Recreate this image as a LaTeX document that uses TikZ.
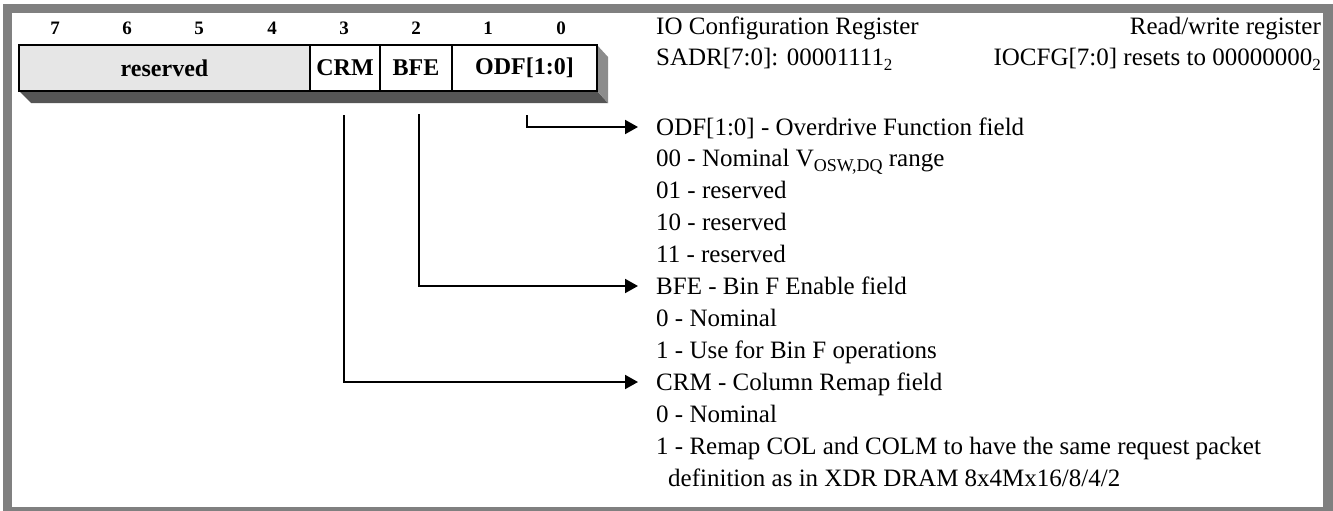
\documentclass[tikz,border=0pt]{standalone}
\usepackage{fontspec}
\setmainfont{Liberation Serif}
\usetikzlibrary{arrows.meta}
\definecolor{framegray}{HTML}{808080}
\definecolor{resgray}{HTML}{E6E6E6}
\definecolor{shadowdark}{HTML}{555555}
\definecolor{shadowside}{HTML}{8C8C8C}
\begin{document}
\begin{tikzpicture}[x=1pt,y=-1pt,
  bitlbl/.style={font=\fontsize{19}{19}\selectfont\bfseries, anchor=base, inner sep=0pt},
  cell/.style={draw=black, line width=2pt, minimum height=46pt, inner sep=0pt, outer sep=0pt,
    font=\fontsize{24}{24}\selectfont\bfseries},
  desc/.style={anchor=west, inner sep=0pt, text height=16pt, text depth=0pt,
    font=\fontsize{25}{25}\selectfont},
  title/.style={inner sep=0pt, text height=16pt, text depth=0pt,
    font=\fontsize{25}{25}\selectfont},
  conn/.style={line width=2pt, -{Triangle[length=13pt,width=14pt]}, shorten >=18pt}
]
\useasboundingbox (0,0) rectangle (1333,511);
% frame
\fill[framegray] (3,4) rectangle (1333,511);
\fill[white] (12,13) rectangle (1323,507);
% shadow of register
\fill[shadowdark] (19,91) -- (597,91) -- (608,103) -- (31,103) -- cycle;
\fill[shadowside] (597,45) -- (608,57) -- (608,103) -- (597,91) -- cycle;
% cells
\node[cell, fill=resgray, minimum width=291pt] (res) at (164.5,68) {reserved};
\node[cell, fill=white, minimum width=70pt] (crm) at (345,68) {CRM};
\node[cell, fill=white, minimum width=72pt] (bfe) at (416,68) {BFE};
\node[cell, fill=white, minimum width=145pt] (odf) at (524.5,68) {ODF[1:0]};
% bit numbers
\node[bitlbl] (b7) at (55,35) {7};
\node[bitlbl] (b6) at (127,35) {6};
\node[bitlbl] (b5) at (199,35) {5};
\node[bitlbl] (b4) at (272,35) {4};
\node[bitlbl] (b3) at (344,35) {3};
\node[bitlbl] (b2) at (416,35) {2};
\node[bitlbl] (b1) at (488,35) {1};
\node[bitlbl] (b0) at (561,35) {0};
% titles
\node[title, anchor=west] (t1) at (656,27) {IO Configuration Register};
\node[title, anchor=east] (t2) at (1321,27) {Read/write register};
\node[title, anchor=west] (t3) at (656,58) {SADR[7:0]: 00001111\raisebox{-0.35ex}{\fontsize{17}{17}\selectfont 2}};
\node[title, anchor=east] (t4) at (1321,58) {IOCFG[7:0] resets to 00000000\raisebox{-0.35ex}{\fontsize{17}{17}\selectfont 2}};
% descriptions
\node[desc] (odfT) at (656,127) {ODF[1:0] - Overdrive Function field};
\node[desc] (d1) at (656,158) {00 - Nominal V\raisebox{-0.45ex}{\fontsize{18}{18}\selectfont OSW,DQ} range};
\node[desc] (d2) at (656,190) {01 - reserved};
\node[desc] (d3) at (656,222) {10 - reserved};
\node[desc] (d4) at (656,254) {11 - reserved};
\node[desc] (bfeT) at (656,286) {BFE - Bin F Enable field};
\node[desc] (d5) at (656,318) {0 - Nominal};
\node[desc] (d6) at (656,350) {1 - Use for Bin F operations};
\node[desc] (crmT) at (656,382) {CRM - Column Remap field};
\node[desc] (d7) at (656,414) {0 - Nominal};
\node[desc] (d8) at (656,446) {1 - Remap COL and COLM to have the same request packet};
\node[desc] (d9) at (668,478) {definition as in XDR DRAM 8x4Mx16/8/4/2};
% connectors
\coordinate (odfS) at (527,115);
\coordinate (bfeS) at (419,114);
\coordinate (crmS) at (344,115);
\draw[conn] (odfS) |- (odfT.west);
\draw[conn] (bfeS) |- (bfeT.west);
\draw[conn] (crmS) |- (crmT.west);
\end{tikzpicture}
\end{document}
